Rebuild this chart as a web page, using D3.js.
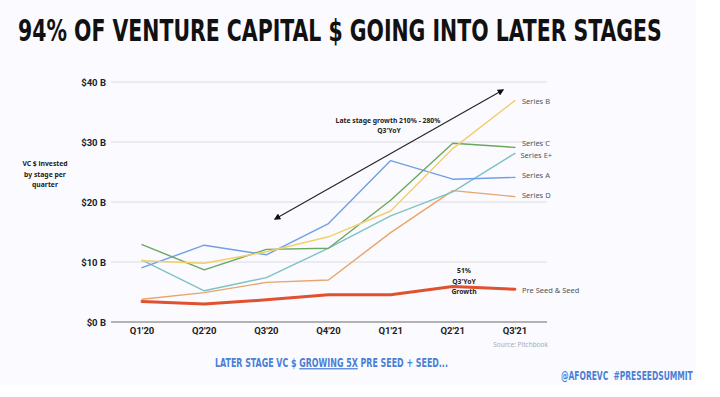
<!DOCTYPE html>
<html><head><meta charset="utf-8">
<script src="https://cdn.jsdelivr.net/npm/d3@7"></script>
<style>
html,body{margin:0;padding:0;background:#fff;}
svg{display:block;}
</style></head>
<body><svg id="c" width="720" height="397"></svg>
<script>
const quarters = ["Q1'20","Q2'20","Q3'20","Q4'20","Q1'21","Q2'21","Q3'21"];
const yTicks = [0,10,20,30,40];
const seriesNames = ["Series A","Series B","Series C","Series E+","Series D","Pre Seed & Seed"];
const seriesA = [9.05,12.8,11.2,16.4,26.9,23.8,24.1];
const seriesB = [10.2,9.8,11.7,14.2,18.5,28.9,36.9];
const seriesC = [12.9,8.7,12.1,12.3,20.3,29.8,29.1];
const seriesE = [10.3,5.2,7.4,12.3,17.7,21.7,28.1];
const seriesD = [3.8,4.9,6.6,7.0,14.9,21.9,20.9];
const preSeed = [3.4,3.0,3.7,4.55,4.55,5.9,5.45];
const seriesValues = [seriesA,seriesB,seriesC,seriesE,seriesD,preSeed];
const colors = ["#6f9fe6","#f2cf6a","#6aa760","#7cc3c6","#e9a46a","#e0522f"];
const widths = [1.4,1.4,1.4,1.4,1.4,3];

const svg = d3.select("#c");
svg.append("rect").attr("x",0).attr("y",0).attr("width",696).attr("height",385).attr("fill","#fbfaff");

const condFont = "'DejaVu Sans Condensed','DejaVu Sans'";
// fit a text horizontally into a target width with a scale transform
function fitText(sel, x0, y0, target){
  const w = sel.node().getComputedTextLength();
  sel.attr("transform", `translate(${x0},${y0}) scale(${target/w},1)`);
}

// title
const title = svg.append("text").attr("x",0).attr("y",0)
  .attr("font-family",condFont).attr("font-weight","bold")
  .attr("font-stretch","condensed").attr("font-size",30.5).attr("fill","#111")
  .text("94% OF VENTURE CAPITAL $ GOING INTO LATER STAGES");
fitText(title,18,41,644);

const x = d3.scaleBand().domain(quarters).range([111,546]);
const y = d3.scaleLinear().domain([0,40]).range([322,82]);

// grid
svg.append("g").selectAll("line").data(yTicks).join("line")
  .attr("x1",111).attr("x2",547)
  .attr("y1",d=>y(d)).attr("y2",d=>y(d))
  .attr("stroke",d=>d===0?"#9a9a9a":"#dcdcdc").attr("stroke-width",d=>d===0?1.4:1);

// y axis labels
const yAxis = d3.axisLeft(y).tickValues(yTicks).tickSize(0).tickPadding(0).tickFormat(d=>"$"+d+" B");
const ya = svg.append("g").attr("transform","translate(106,0)").call(yAxis);
ya.select(".domain").remove();
ya.selectAll("text").attr("font-family","Roboto, 'Liberation Sans', sans-serif").attr("font-weight","bold")
  .attr("font-size",9.5).attr("fill","#222");

// x axis labels
const xAxis = d3.axisBottom(x).tickSize(0).tickPadding(0);
const xa = svg.append("g").attr("transform","translate(0,327)").call(xAxis);
xa.select(".domain").remove();
xa.selectAll("text").attr("font-family","Roboto, 'Liberation Sans', sans-serif").attr("font-weight","bold")
  .attr("font-size",9.5).attr("fill","#222");

// lines
const line = d3.line().x((d,i)=>x(quarters[i])+x.bandwidth()/2).y(d=>y(d));
const order = [4,3,0,2,1,5];
order.forEach(k=>{
  svg.append("path").datum(seriesValues[k]).attr("d",line)
    .attr("fill","none").attr("stroke",colors[k]).attr("stroke-width",widths[k])
    .attr("stroke-linejoin","round").attr("stroke-linecap","round");
});

// series labels
const labelY = {"Series B":101,"Series C":143,"Series E+":155.5,"Series A":175.5,"Series D":195.5,"Pre Seed & Seed":290};
const labelX = {"Series B":522,"Series C":522,"Series E+":520.5,"Series A":522,"Series D":522,"Pre Seed & Seed":522};
seriesNames.forEach(n=>{
  svg.append("text").attr("x",labelX[n]).attr("y",labelY[n]).attr("dy","0.35em")
    .attr("font-family","'Noto Sans', 'Open Sans', sans-serif").attr("font-size",7.5).attr("fill","#555")
    .text(n);
});

// arrow
const defs = svg.append("defs");
defs.append("marker").attr("id","ah").attr("viewBox","0 0 10 10").attr("refX",8).attr("refY",5)
  .attr("markerWidth",6).attr("markerHeight",6).attr("orient","auto-start-reverse")
  .append("path").attr("d","M0,0 L10,5 L0,10 z").attr("fill","#111");
svg.append("line").attr("x1",275).attr("y1",219).attr("x2",503).attr("y2",90)
  .attr("stroke","#222").attr("stroke-width",1.1)
  .attr("marker-start","url(#ah)").attr("marker-end","url(#ah)");

const ann = (t,xx,yy,size)=>svg.append("text").attr("x",xx).attr("y",yy).attr("text-anchor","middle")
  .attr("font-family","'Noto Sans', 'Open Sans', sans-serif").attr("font-weight","bold")
  .attr("font-size",size||6.8).attr("fill","#222").text(t);
ann("Late stage growth 210% - 280%",388,123);
ann("Q3'YoY",389,133);
ann("51%",464,273);
ann("Q3'YoY",464,283.5);
ann("Growth",464,294);
ann("VC $ invested",45,166);
ann("by stage per",45,176.5);
ann("quarter",45,187);

// source
svg.append("text").attr("x",548).attr("y",347).attr("text-anchor","end")
  .attr("font-family","'Noto Sans', sans-serif").attr("font-size",6.5).attr("fill","#aaa")
  .text("Source: Pitchbook");

// bottom texts
const bt = svg.append("text").attr("x",0).attr("y",0)
  .attr("font-family",condFont).attr("font-weight","bold")
  .attr("font-stretch","condensed").attr("font-size",12.3).attr("fill","#4a7fd6");
bt.append("tspan").text("LATER STAGE VC $ ");
bt.append("tspan").attr("text-decoration","underline").text("GROWING 5X");
bt.append("tspan").text(" PRE SEED + SEED...");
fitText(bt,215,367,233);

const tag = svg.append("text").attr("x",0).attr("y",0)
  .attr("font-family",condFont).attr("font-weight","bold")
  .attr("font-stretch","condensed").attr("font-size",12.5).attr("fill","#4a7fd6")
  .attr("xml:space","preserve")
  .text("@AFOREVC  #PRESEEDSUMMIT");
fitText(tag,561,380,132);
</script></body></html>
